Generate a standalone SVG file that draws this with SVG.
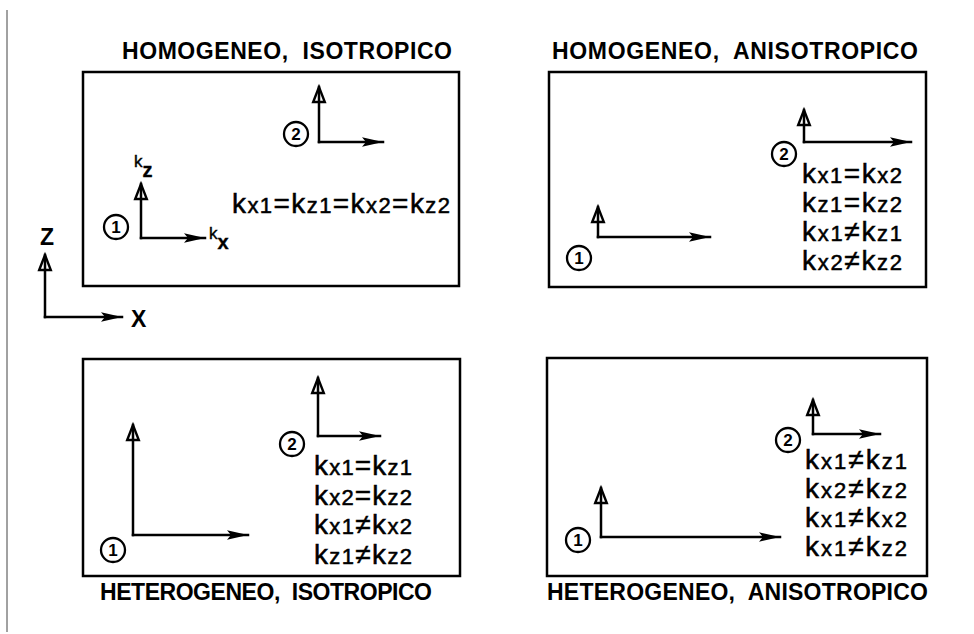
<svg xmlns="http://www.w3.org/2000/svg" width="974" height="634" viewBox="0 0 974 634">
<style>
.bg{fill:#fff}
.box{fill:none;stroke:#000;stroke-width:2.5}
.ax{fill:none;stroke:#000;stroke-width:2.5;stroke-linecap:square}
.up{marker-end:url(#openUp)}
.rt{marker-end:url(#fillRt)}
.title{font-family:"Liberation Sans",Arial,sans-serif;font-weight:bold;font-size:23px;fill:#000;white-space:pre}
.eq{font-family:"Liberation Sans",Arial,sans-serif;font-size:28px;fill:#000;stroke:#000;stroke-width:0.5}
.sub{font-size:22px}
.lbl{font-family:"Liberation Sans",Arial,sans-serif;font-size:17px;fill:#000;stroke:#000;stroke-width:0.4}
.circ{fill:none;stroke:#000;stroke-width:2.3}
.num{font-family:"Liberation Sans",Arial,sans-serif;font-weight:bold;font-size:17px;text-anchor:middle;fill:#000}
</style>
<defs>
<marker id="openUp" markerUnits="userSpaceOnUse" viewBox="0 0 18 14" markerWidth="18" markerHeight="14" refX="16" refY="7" orient="auto" overflow="visible">
<path d="M1,1.2 L16,7 L1,12.8 Z" fill="none" stroke="#000" stroke-width="2.4" stroke-linejoin="miter"/>
</marker>
<marker id="fillRt" markerUnits="userSpaceOnUse" viewBox="0 0 22 12" markerWidth="22" markerHeight="12" refX="21" refY="6" orient="auto" overflow="visible">
<path d="M0,1.3 L21,6 L0,10.7 L4,6 Z" fill="#000"/>
</marker>
</defs>
<rect class="bg" x="0" y="0" width="974" height="634"/>
<line x1="7" y1="10" x2="7" y2="632" stroke="#444" stroke-width="1"/>

<g id="global-axes">
<text class="title" x="40" y="245" font-size="19">Z</text>
<text class="title" x="131" y="327" font-size="19">X</text>
</g>

<g id="panel-homogeneo-isotropico">
<text class="title" x="122" y="59" textLength="330" lengthAdjust="spacing">HOMOGENEO,  ISOTROPICO</text>
<rect class="box" x="83" y="72" width="376" height="214"/>
<circle class="circ" cx="116" cy="227" r="12"/><text class="num" x="116" y="233">1</text>
<circle class="circ" cx="296" cy="134" r="12"/><text class="num" x="296" y="140">2</text>
<text class="lbl" x="134" y="167">k<tspan font-weight="bold" font-size="20" dy="10">z</tspan></text>
<text class="lbl" x="209" y="239">k<tspan font-weight="bold" font-size="20" dy="10">x</tspan></text>
<text class="eq" x="232" y="213" textLength="218" lengthAdjust="spacing">k<tspan class="sub">x1</tspan>=k<tspan class="sub">z1</tspan>=k<tspan class="sub">x2</tspan>=k<tspan class="sub">z2</tspan></text>
</g>

<g id="panel-homogeneo-anisotropico">
<text class="title" x="552" y="59" textLength="366" lengthAdjust="spacing">HOMOGENEO,  ANISOTROPICO</text>
<rect class="box" x="549" y="72" width="377" height="215"/>
<circle class="circ" cx="579" cy="258" r="12"/><text class="num" x="579" y="264">1</text>
<circle class="circ" cx="784" cy="154" r="12"/><text class="num" x="784" y="160">2</text>
<text class="eq" x="802" y="183" textLength="100" lengthAdjust="spacing">k<tspan class="sub">x1</tspan>=k<tspan class="sub">x2</tspan></text>
<text class="eq" x="802" y="212" textLength="100" lengthAdjust="spacing">k<tspan class="sub">z1</tspan>=k<tspan class="sub">z2</tspan></text>
<text class="eq" x="802" y="241" textLength="100" lengthAdjust="spacing">k<tspan class="sub">x1</tspan>≠k<tspan class="sub">z1</tspan></text>
<text class="eq" x="802" y="270" textLength="100" lengthAdjust="spacing">k<tspan class="sub">x2</tspan>≠k<tspan class="sub">z2</tspan></text>
</g>

<g id="panel-heterogeneo-isotropico">
<text class="title" x="100" y="600" textLength="332" lengthAdjust="spacing">HETEROGENEO,  ISOTROPICO</text>
<rect class="box" x="83" y="359" width="377" height="217"/>
<circle class="circ" cx="113" cy="550" r="12"/><text class="num" x="113" y="556">1</text>
<circle class="circ" cx="292" cy="444" r="12"/><text class="num" x="292" y="450">2</text>
<text class="eq" x="314" y="475" textLength="98" lengthAdjust="spacing">k<tspan class="sub">x1</tspan>=k<tspan class="sub">z1</tspan></text>
<text class="eq" x="314" y="505" textLength="98" lengthAdjust="spacing">k<tspan class="sub">x2</tspan>=k<tspan class="sub">z2</tspan></text>
<text class="eq" x="314" y="534" textLength="98" lengthAdjust="spacing">k<tspan class="sub">x1</tspan>≠k<tspan class="sub">x2</tspan></text>
<text class="eq" x="314" y="564" textLength="98" lengthAdjust="spacing">k<tspan class="sub">z1</tspan>≠k<tspan class="sub">z2</tspan></text>
</g>

<g id="panel-heterogeneo-anisotropico">
<text class="title" x="547" y="600" textLength="381" lengthAdjust="spacing">HETEROGENEO,  ANISOTROPICO</text>
<rect class="box" x="547" y="358" width="380" height="218"/>
<circle class="circ" cx="578" cy="540" r="12"/><text class="num" x="578" y="546">1</text>
<circle class="circ" cx="788" cy="440" r="12"/><text class="num" x="788" y="446">2</text>
<text class="eq" x="805" y="469" textLength="102" lengthAdjust="spacing">k<tspan class="sub">x1</tspan>≠k<tspan class="sub">z1</tspan></text>
<text class="eq" x="805" y="498" textLength="102" lengthAdjust="spacing">k<tspan class="sub">x2</tspan>≠k<tspan class="sub">z2</tspan></text>
<text class="eq" x="805" y="527" textLength="102" lengthAdjust="spacing">k<tspan class="sub">x1</tspan>≠k<tspan class="sub">x2</tspan></text>
<text class="eq" x="805" y="556" textLength="102" lengthAdjust="spacing">k<tspan class="sub">x1</tspan>≠k<tspan class="sub">z2</tspan></text>
</g>

<g id="connectors">
<line class="ax up" x1="45" y1="317" x2="45" y2="255"/><line class="ax rt" x1="45" y1="317" x2="122" y2="317"/>
<line class="ax up" x1="141" y1="238" x2="141" y2="184"/><line class="ax rt" x1="141" y1="238" x2="205" y2="238"/>
<line class="ax up" x1="319" y1="142" x2="319" y2="87"/><line class="ax rt" x1="319" y1="142" x2="383" y2="142"/>
<line class="ax up" x1="598" y1="237" x2="598" y2="207"/><line class="ax rt" x1="598" y1="237" x2="710" y2="237"/>
<line class="ax up" x1="804" y1="142" x2="804" y2="110"/><line class="ax rt" x1="804" y1="142" x2="911" y2="142"/>
<line class="ax up" x1="133" y1="535" x2="133" y2="425"/><line class="ax rt" x1="133" y1="535" x2="248" y2="535"/>
<line class="ax up" x1="318" y1="436" x2="318" y2="378"/><line class="ax rt" x1="318" y1="436" x2="380" y2="436"/>
<line class="ax up" x1="601" y1="537" x2="601" y2="488"/><line class="ax rt" x1="601" y1="537" x2="780" y2="537"/>
<line class="ax up" x1="813" y1="434" x2="813" y2="400"/><line class="ax rt" x1="813" y1="434" x2="880" y2="434"/>
</g>
</svg>
